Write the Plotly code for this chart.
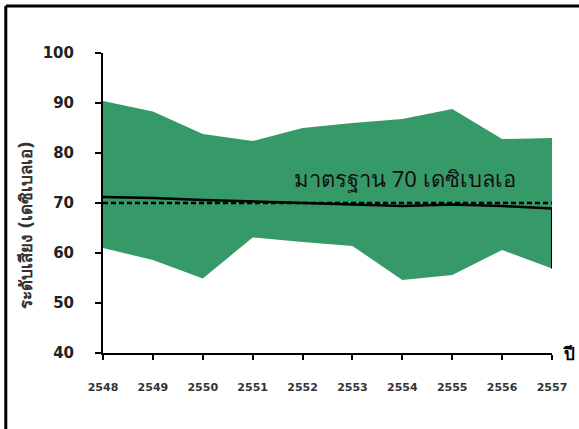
import plotly.graph_objects as go

# Noise levels per year (dBA): range band, yearly mean and the 70 dBA standard
years = ["2548", "2549", "2550", "2551", "2552", "2553", "2554", "2555", "2556", "2557"]
upper = [90.4, 88.3, 83.8, 82.4, 85.0, 86.0, 86.8, 88.8, 82.8, 83.0]
lower = [61.0, 58.6, 54.9, 63.1, 62.2, 61.4, 54.6, 55.6, 60.6, 56.9]
mean = [71.2, 71.0, 70.6, 70.3, 70.0, 69.8, 69.4, 69.7, 69.4, 68.9]
standard = [70, 70, 70, 70, 70, 70, 70, 70, 70, 70]

xs = list(range(len(years)))
green = "#369A68"

fig = go.Figure()

# band between minimum and maximum levels
fig.add_trace(go.Scatter(x=xs, y=lower, mode="lines", line=dict(width=0),
                         hoverinfo="skip", showlegend=False))
fig.add_trace(go.Scatter(x=xs, y=upper, mode="lines", line=dict(width=0),
                         fill="tonexty", fillcolor=green, showlegend=False))

# standard line (dashed)
fig.add_trace(go.Scatter(x=xs, y=standard, mode="lines",
                         line=dict(color="black", width=2.5, dash="5px,3px"),
                         showlegend=False))

# yearly mean
fig.add_trace(go.Scatter(x=xs, y=mean, mode="lines",
                         line=dict(color="black", width=2.5), showlegend=False))

# closing edge at the last year, from the mean down to the minimum
fig.add_trace(go.Scatter(x=[xs[-1], xs[-1]], y=[mean[-1], lower[-1]], mode="lines",
                         line=dict(color="black", width=2), showlegend=False))

fig.add_annotation(x=6.05, y=75.0, xref="x", yref="y",
                   text="มาตรฐาน 70 เดซิเบลเอ", showarrow=False,
                   font=dict(size=22, color="#111111", family="Noto Sans, sans-serif"))

fig.add_annotation(x=1.02, y=-0.005, xref="paper", yref="paper", xanchor="left",
                   yanchor="middle", text="<b>ปี</b>", showarrow=False,
                   font=dict(size=17, color="black"))

# vertical axis title
fig.add_annotation(x=-0.172, y=0.427, xref="paper", yref="paper", textangle=-90,
                   xanchor="center", yanchor="middle",
                   text="<b>ระดับเสียง (เดซิเบลเอ)</b>", showarrow=False,
                   font=dict(size=17, color="#333333"))

# outer frame (left and top edges)
fig.add_shape(type="line", xref="paper", yref="paper",
              x0=-0.2165, x1=-0.2165, y0=1.157, y1=-0.4,
              line=dict(color="black", width=3))
fig.add_shape(type="line", xref="paper", yref="paper",
              x0=-0.2165, x1=1.2, y0=1.157, y1=1.157,
              line=dict(color="black", width=3))

fig.update_layout(
    width=579, height=429,
    margin=dict(l=103, r=27, t=53, b=76),
    paper_bgcolor="white", plot_bgcolor="white",
    font=dict(family="DejaVu Sans, sans-serif", color="black"),
    xaxis=dict(range=[0, 9], tickvals=xs, ticktext=[f"<b>{y}</b>" for y in years],
               showgrid=False, zeroline=False, showline=True, linecolor="black",
               linewidth=2, ticks="outside", ticklen=5, tickwidth=2, tickcolor="black",
               tickfont=dict(size=11, color="#333333"), ticklabelstandoff=18),
    yaxis=dict(range=[40, 100], tickvals=[40, 50, 60, 70, 80, 90, 100],
               ticktext=[f"<b>{v}</b>" for v in [40, 50, 60, 70, 80, 90, 100]],
               showgrid=False, zeroline=False, showline=True, linecolor="black",
               linewidth=2, ticks="outside", ticklen=6, tickwidth=2, tickcolor="black",
               tickfont=dict(size=15, color="#222222"), ticklabelstandoff=18),
)

fig.write_html("out.html")
